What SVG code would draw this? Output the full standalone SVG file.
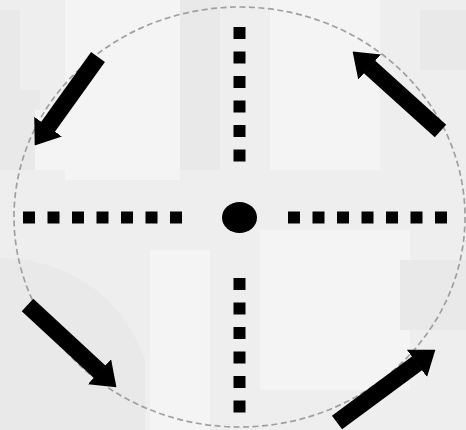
<svg xmlns="http://www.w3.org/2000/svg" width="466" height="430" viewBox="0 0 466 430">
<defs>
<style>
.dots{stroke:#000;stroke-width:12;stroke-dasharray:12 12.5;fill:none}
.arrow{stroke:#000;stroke-width:17;fill:none;marker-end:url(#head)}
.bgl{fill:#f4f4f4}
.bgd{fill:#e9e9e9}
</style>
<marker id="head" markerUnits="userSpaceOnUse" markerWidth="23" markerHeight="34" viewBox="0 0 23 34" refX="0.5" refY="17" orient="auto">
<path d="M0,0 L23,17 L0,34 Z" fill="#000"/>
</marker>
</defs>
<g id="background">
<rect width="466" height="430" fill="#eeeeee"/>
<rect class="bgd" x="0" y="10" width="20" height="160"/>
<rect class="bgd" x="10" y="90" width="30" height="80"/>
<rect class="bgl" x="65" y="0" width="115" height="180"/>
<rect class="bgd" x="180" y="0" width="40" height="170"/>
<rect class="bgl" x="270" y="0" width="110" height="170"/>
<rect class="bgd" x="420" y="10" width="46" height="60"/>
<rect class="bgl" x="35" y="110" width="70" height="60"/>
<rect class="bgl" x="260" y="230" width="150" height="160"/>
<rect class="bgd" x="400" y="260" width="66" height="70"/>
<path class="bgd" d="M0,258 C60,258 120,290 145,360 L145,430 L0,430 Z"/>
<rect class="bgl" x="150" y="250" width="60" height="180"/>
</g>
<ellipse id="ring" cx="239.5" cy="217" rx="225.5" ry="210" fill="none" stroke="#a0a0a0" stroke-width="1.7" stroke-dasharray="6 3.5"/>
<g id="connectors">
<line class="dots" x1="239.5" y1="27" x2="239.5" y2="161.5"/>
<line class="dots" x1="239.5" y1="278" x2="239.5" y2="412.5"/>
<line class="dots" x1="23" y1="217.5" x2="182" y2="217.5"/>
<line class="dots" x1="288" y1="217.5" x2="447" y2="217.5"/>
<line class="arrow" x1="98" y1="57" x2="47.8" y2="127.1"/>
<line class="arrow" x1="440.5" y1="131" x2="369.3" y2="66.7"/>
<line class="arrow" x1="27.5" y1="305" x2="99.9" y2="372"/>
<line class="arrow" x1="337" y1="422.5" x2="417.3" y2="363.1"/>
</g>
<g id="center">
<ellipse cx="239.5" cy="217.5" rx="17.5" ry="15.5" fill="#000"/>
</g>
</svg>
